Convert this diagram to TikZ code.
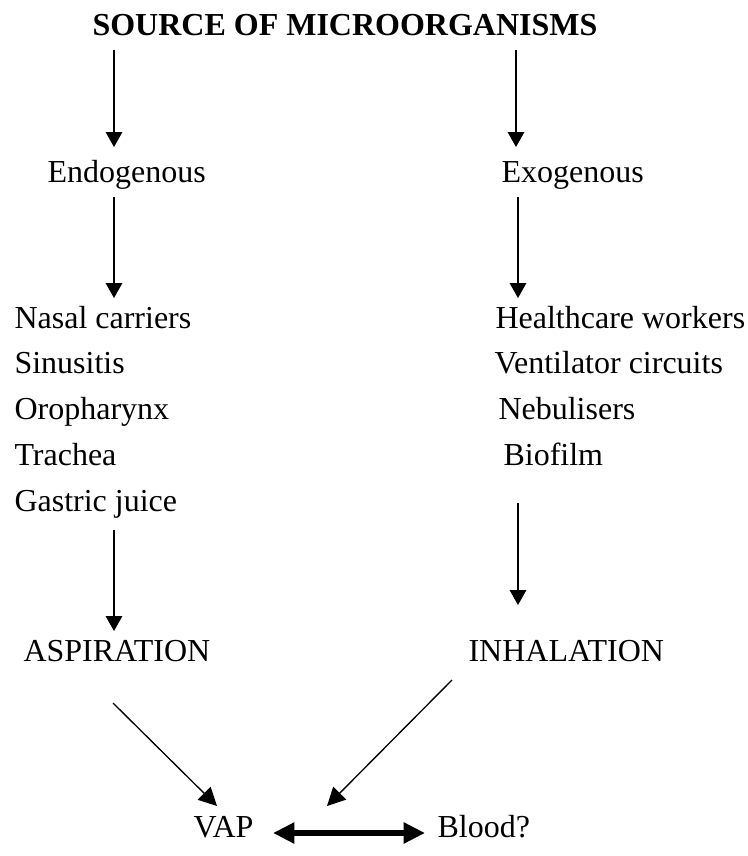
\documentclass[tikz,border=0pt]{standalone}
\usepackage{fontspec}
\setmainfont{Liberation Serif}
\usetikzlibrary{arrows.meta}
\begin{document}
\begin{tikzpicture}[x=0.375pt,y=-0.375pt,
  txt/.style={anchor=base west, inner sep=0pt, font=\fontsize{12}{14}\selectfont},
  ttl/.style={anchor=base west, inner sep=0pt, font=\fontsize{12}{14}\selectfont\bfseries},
  arr/.style={line width=0.5pt, -{Triangle[width=6.2pt,length=5.6pt]}},
  diag/.style={line width=0.5pt, -{Triangle[width=6.8pt,length=6.8pt]}},
  dbl/.style={line width=2.6pt, {Triangle[width=7.5pt,length=8pt]}-{Triangle[width=7.5pt,length=8pt]}}]
\useasboundingbox (0,0) rectangle (747,856);
% texts
\node[ttl] (title) at (92,36) {SOURCE OF MICROORGANISMS};
\node[txt] (endo) at (47,182) {Endogenous};
\node[txt] (exo) at (501,182) {Exogenous};
\node[txt] (l1) at (14,328) {Nasal carriers};
\node[txt] (l2) at (14,373) {Sinusitis};
\node[txt] (l3) at (14,419) {Oropharynx};
\node[txt] (l4) at (14,465) {Trachea};
\node[txt] (l5) at (14,511) {Gastric juice};
\node[txt] (r1) at (495,328) {Healthcare workers};
\node[txt] (r2) at (494,373) {Ventilator circuits};
\node[txt] (r3) at (498,419) {Nebulisers};
\node[txt] (r4) at (503,465) {Biofilm};
\node[txt] (asp) at (23,661) {ASPIRATION};
\node[txt] (inh) at (468,661) {INHALATION};
\node[txt] (vap) at (193,837) {VAP};
\node[txt] (blood) at (437,837) {Blood?};
% arrow end points
\coordinate (a1s) at (114,50);  \coordinate (a1e) at (114,147);
\coordinate (b1s) at (516,50);  \coordinate (b1e) at (516,147);
\coordinate (a2s) at (114,197); \coordinate (a2e) at (114,298);
\coordinate (b2s) at (518,197); \coordinate (b2e) at (518,298);
\coordinate (a3s) at (114,530); \coordinate (a3e) at (114,631);
\coordinate (b3s) at (518,503); \coordinate (b3e) at (518,605);
\coordinate (d1s) at (113,703); \coordinate (d1e) at (217,806);
\coordinate (d2s) at (452,680); \coordinate (d2e) at (327,806);
\coordinate (vs) at (273,833);  \coordinate (ve) at (425,833);
% connectors
\draw[arr] (a1s) -- (a1e);
\draw[arr] (b1s) -- (b1e);
\draw[arr] (a2s) -- (a2e);
\draw[arr] (b2s) -- (b2e);
\draw[arr] (a3s) -- (a3e);
\draw[arr] (b3s) -- (b3e);
\draw[diag] (d1s) -- (d1e);
\draw[diag] (d2s) -- (d2e);
\draw[dbl] (vs) -- (ve);
\end{tikzpicture}
\end{document}
